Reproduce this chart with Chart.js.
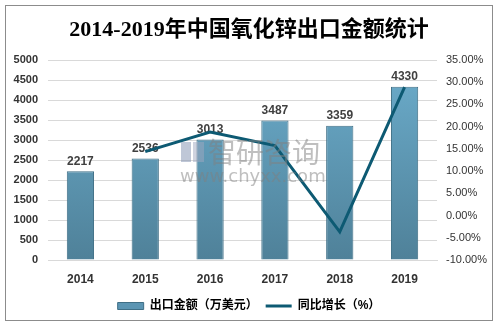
<!DOCTYPE html>
<html>
<head>
<meta charset="utf-8">
<script src="https://cdn.jsdelivr.net/npm/chart.js@4"></script>
<style>
  html, body { margin: 0; padding: 0; background: #fff; }
  #wrap { width: 498px; height: 326px; position: relative; }
</style>
</head>
<body>
<div id="wrap"><canvas id="c"></canvas></div>
<script>
// 2014-2019年中国氧化锌出口金额统计
const years = ["2014", "2015", "2016", "2017", "2018", "2019"];
const amount = [2217, 2536, 3013, 3487, 3359, 4330];       // 出口金额（万美元）
const growth = [null, 14.39, 18.81, 15.73, -3.67, 28.91];  // 同比增长（%）
const labelAmount = "出口金额（万美元）";
const labelGrowth = "同比增长（%）";
const titleText = "2014-2019年中国氧化锌出口金额统计";

const lineColor = "#0d5a73";
const cjk = "'Liberation Sans', 'Noto Sans CJK SC', sans-serif";

function barFill(ctx) {
  const area = ctx.chart.chartArea;
  if (!area) return "#5b95b3";
  const g = ctx.chart.ctx.createLinearGradient(0, area.top, 0, area.bottom);
  g.addColorStop(0, "#6cadcc");
  g.addColorStop(1, "#4f8199");
  return g;
}

// 外框 + 标题 + 水印
const deco = {
  id: "deco",
  beforeDraw(chart) {
    const c = chart.ctx;
    c.save();
    c.strokeStyle = "#8c8c8c";
    c.lineWidth = 1;
    c.strokeRect(5.5, 5.5, 487, 315);
    c.fillStyle = "#000";
    c.font = "bold 22px 'Liberation Serif', 'Noto Sans CJK SC', serif";
    c.textAlign = "center";
    c.textBaseline = "middle";
    c.fillText(titleText, 249, 30);
    c.restore();
  },
  afterDatasetDraw(chart, args) {
    if (args.index !== 0) return;
    // 柱顶数值
    const c = chart.ctx;
    c.save();
    c.fillStyle = "#404040";
    c.font = "bold 12px " + cjk;
    c.textAlign = "center";
    c.textBaseline = "bottom";
    args.meta.data.forEach((el, i) => c.fillText(amount[i], el.x, el.y - 4));
    c.restore();
  },
  afterDatasetsDraw(chart) {
    const c = chart.ctx;
    c.save();
    c.globalAlpha = 0.5;
    c.fillStyle = "#7f8fb0";
    c.fillRect(181, 142, 10, 20);
    c.fillStyle = "#a0a8c0";
    c.fillRect(193, 142, 11, 20);
    c.fillStyle = "#808080";
    c.font = "28px 'Noto Sans CJK SC', sans-serif";
    c.textAlign = "left";
    c.textBaseline = "middle";
    c.fillText("智研咨询", 208, 152);
    c.font = "18px 'DejaVu Sans', sans-serif";
    c.fillText("www.chyxx.com", 180, 177);
    c.restore();
  }
};

new Chart(document.getElementById("c"), {
  type: "bar",
  data: {
    labels: years,
    datasets: [
      {
        type: "bar", label: labelAmount, data: amount, yAxisID: "y", order: 1,
        backgroundColor: barFill, borderColor: "#3f6f86", borderWidth: 1,
        categoryPercentage: 1, barPercentage: 0.42
      },
      {
        type: "line", label: labelGrowth, data: growth, yAxisID: "y1", order: 0,
        borderColor: lineColor, backgroundColor: lineColor, borderWidth: 3,
        pointRadius: 0, tension: 0, spanGaps: false
      }
    ]
  },
  options: {
    responsive: true, maintainAspectRatio: false, animation: false,
    layout: { padding: { top: 60, left: 8, right: 8, bottom: 4 } },
    scales: {
      x: {
        grid: { display: false, drawTicks: false },
        border: { display: true, color: "#d9d9d9" },
        ticks: { color: "#333", font: { family: cjk, size: 12, weight: "bold" }, padding: 12 },
        afterFit(s) { s.height = 32; }
      },
      y: {
        position: "left", min: 0, max: 5000,
        ticks: { stepSize: 500, color: "#333", font: { family: cjk, size: 11, weight: "bold" }, padding: 10,
                 callback: v => String(v) },
        grid: { color: "#d9d9d9", drawTicks: false },
        border: { display: false },
        afterFit(s) { s.width = 40; }
      },
      y1: {
        position: "right", min: -10, max: 35,
        ticks: { stepSize: 5, color: "#333", font: { family: cjk, size: 11 }, padding: 9,
                 callback: v => v.toFixed(2) + "%" },
        grid: { display: false, drawTicks: false },
        border: { display: false },
        afterFit(s) { s.width = 53; }
      }
    },
    plugins: {
      tooltip: { enabled: false },
      legend: {
        position: "bottom",
        labels: {
          usePointStyle: true, pointStyleWidth: 26, boxHeight: 7, padding: 8,
          color: "#404040", font: { family: cjk, size: 12, weight: "bold" },
          generateLabels: () => [
            { text: labelAmount, pointStyle: "rect", fillStyle: "#5b95b3", strokeStyle: "#3f6f86", lineWidth: 1, datasetIndex: 0 },
            { text: labelGrowth, pointStyle: "line", fillStyle: lineColor, strokeStyle: lineColor, lineWidth: 3, datasetIndex: 1 }
          ]
        }
      }
    }
  },
  plugins: [deco]
});
</script>
</body>
</html>
